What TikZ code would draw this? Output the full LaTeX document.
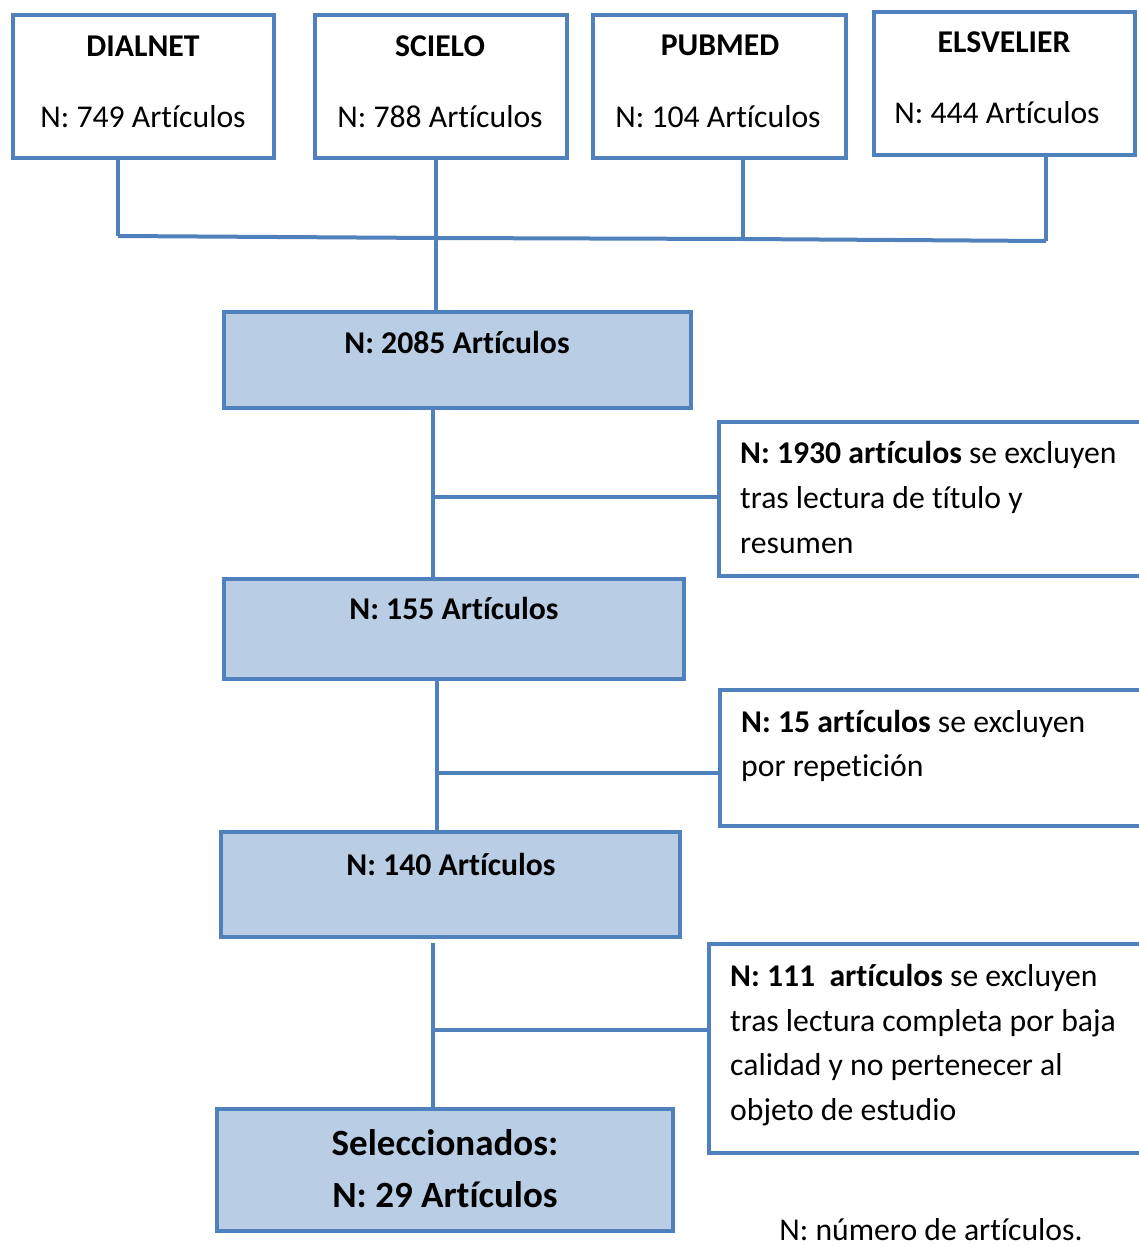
\documentclass[tikz,border=0pt]{standalone}
\usepackage{fontspec}
\setmainfont{Carlito}[Ligatures=NoCommon]
\definecolor{lineblue}{RGB}{79,129,189}
\definecolor{fillblue}{RGB}{185,205,229}
\begin{document}
\begin{tikzpicture}[x=1pt,y=-1pt,
  box/.style={draw=lineblue, line width=4pt, rectangle, inner sep=0pt, outer sep=0pt, anchor=north west},
  srcbox/.style={box, fill=white},
  midbox/.style={box, fill=fillblue},
  exbox/.style={box, fill=white},
  conn/.style={draw=lineblue, line width=4pt},
  txt/.style={inner sep=0pt, anchor=base, font=\fontsize{31.7}{38}\selectfont},
  ltxt/.style={inner sep=0pt, anchor=base west, font=\fontsize{31.7}{38}\selectfont},
  bigtxt/.style={inner sep=0pt, anchor=base, font=\fontsize{37}{44}\selectfont\bfseries}
]
\useasboundingbox (0,0) rectangle (1139,1246);
\fill[white] (0,0) rectangle (1139,1246);

% source boxes
\node[srcbox, minimum width=261pt, minimum height=143pt] (dial) at (13,15) {};
\node[srcbox, minimum width=252pt, minimum height=143pt] (sci) at (315,15) {};
\node[srcbox, minimum width=253pt, minimum height=143pt] (pub) at (593,15) {};
\node[srcbox, minimum width=261pt, minimum height=143pt] (els) at (874,12) {};

\node[txt] (dialh) at (143,57) {\textbf{DIALNET}};
\node[txt] (dialn) at (143,128) {N: 749 Artículos};
\node[txt] (scih) at (440,57) {\textbf{SCIELO}};
\node[txt] (scin) at (440,128) {N: 788 Artículos};
\node[txt] (pubh) at (720,56) {\textbf{PUBMED}};
\node[txt] (pubn) at (718,128) {N: 104 Artículos};
\node[txt] (elsh) at (1004,53) {\textbf{ELSVELIER}};
\node[txt] (elsn) at (997,124) {N: 444 Artículos};

% main boxes
\node[midbox, minimum width=467pt, minimum height=96pt] (n2085) at (224,312) {};
\node[midbox, minimum width=460pt, minimum height=100pt] (n155) at (224,579) {};
\node[midbox, minimum width=459pt, minimum height=105pt] (n140) at (221,832) {};
\node[midbox, minimum width=456pt, minimum height=122pt] (sel) at (217,1109) {};

\node[txt] (t2085) at (457,353) {\textbf{N: 2085 Artículos}};
\node[txt] (t155) at (454,619) {\textbf{N: 155 Artículos}};
\node[txt] (t140) at (451,875) {\textbf{N: 140 Artículos}};
\node[bigtxt] (tsel1) at (445,1155) {Seleccionados:};
\node[bigtxt] (tsel2) at (445,1207) {N: 29 Artículos};

% exclusion boxes
\node[exbox, minimum width=426pt, minimum height=154pt] (ex1) at (719,422) {};
\node[exbox, minimum width=425pt, minimum height=136pt] (ex2) at (720,690) {};
\node[exbox, minimum width=436pt, minimum height=209pt] (ex3) at (709,944) {};

\node[ltxt] (e1a) at (740,463) {\textbf{N: 1930 artículos} se excluyen};
\node[ltxt] (e1b) at (740,508) {tras lectura de título y};
\node[ltxt] (e1c) at (740,553) {resumen};
\node[ltxt] (e2a) at (741,732) {\textbf{N: 15 artículos} se excluyen};
\node[ltxt] (e2b) at (741,776) {por repetición};
\node[ltxt] (e3a) at (730,986) {\textbf{N: 111\ \ artículos} se excluyen};
\node[ltxt] (e3b) at (730,1031) {tras lectura completa por baja};
\node[ltxt] (e3c) at (730,1075) {calidad y no pertenecer al};
\node[ltxt] (e3d) at (730,1120) {objeto de estudio};

\node[txt] (foot) at (931,1240) {N: número de artículos.};

% bus coordinates
\coordinate (b1) at (118,236);
\coordinate (b2) at (436,238);
\coordinate (b3) at (743,239);
\coordinate (b4) at (1046,241);
\draw[conn] (dial.south -| b1) -- (b1);
\draw[conn] (b1) -- (b2) -- (b3) -- (b4);
\draw[conn] (els.south -| b4) -- (b4);
\draw[conn] (pub.south -| b3) -- (b3);
\draw[conn] (sci.south -| b2) -- (n2085.north -| b2);

% vertical flow and exclusion branches
\coordinate (c1) at (433,497);
\draw[conn] (n2085.south -| c1) -- (n155.north -| c1);
\draw[conn] (c1) -- (ex1.west |- c1);

\coordinate (c2) at (437,773);
\draw[conn] (n155.south -| c2) -- (n140.north -| c2);
\draw[conn] (c2) -- (ex2.west |- c2);

\coordinate (c3) at (433,1030);
\coordinate (c3t) at (433,943);
\draw[conn] (c3t) -- (sel.north -| c3);
\draw[conn] (c3) -- (ex3.west |- c3);
\end{tikzpicture}
\end{document}
